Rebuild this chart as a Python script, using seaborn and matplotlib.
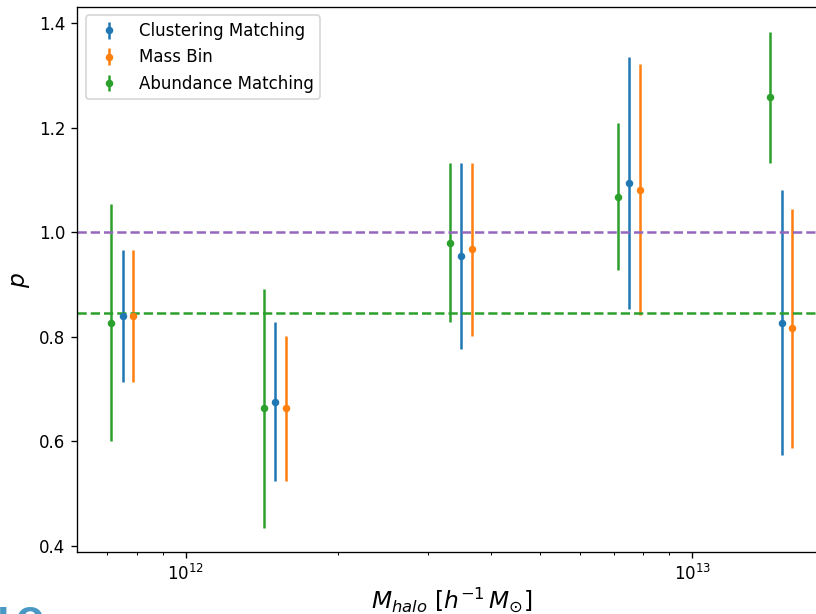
import numpy as np
import pandas as pd
import matplotlib
matplotlib.use("Agg")
import matplotlib.pyplot as plt
import seaborn as sns

# Halo mass bins (h^-1 M_sun) and the per-method offsets used to separate the bars
mass_centres = [7.5e11, 1.5e12, 3.5e12, 7.5e12, 1.5e13]
methods = ["Clustering Matching", "Mass Bin", "Abundance Matching"]
offsets = {"Clustering Matching": 1.00, "Mass Bin": 1.05, "Abundance Matching": 0.95}

# Measured p and its 1-sigma uncertainty for each method
p_clustering = [0.840, 0.676, 0.954, 1.094, 0.827]
err_clustering = [0.126, 0.152, 0.178, 0.241, 0.254]

p_massbin = [0.840, 0.663, 0.967, 1.081, 0.816]
err_massbin = [0.126, 0.139, 0.165, 0.240, 0.228]

p_abundance = [0.827, 0.663, 0.980, 1.068, 1.258]
err_abundance = [0.227, 0.228, 0.152, 0.140, 0.125]

# Reference levels
p_unity = 1.0
p_mean = 0.845

rows = []
for name, vals, errs in [
    ("Clustering Matching", p_clustering, err_clustering),
    ("Mass Bin", p_massbin, err_massbin),
    ("Abundance Matching", p_abundance, err_abundance),
]:
    for m, v, e in zip(mass_centres, vals, errs):
        rows.append({"method": name, "mass": m * offsets[name], "p": v, "err": e})
df = pd.DataFrame(rows)

sns.set_style("ticks", {"axes.grid": False})
plt.rcParams.update({
    "font.family": ["DejaVu Sans"],
    "font.size": 10,
    "text.color": "black",
    "axes.labelcolor": "black",
    "axes.edgecolor": "black",
    "xtick.color": "black",
    "ytick.color": "black",
    "xtick.direction": "out",
    "ytick.direction": "out",
    "xtick.major.size": 3.5,
    "ytick.major.size": 3.5,
    "xtick.minor.size": 2,
})

palette = dict(zip(methods, sns.color_palette("tab10", 3)))

fig = plt.figure(figsize=(6.8, 614 / 120), dpi=120)
ax = fig.add_axes([0.0947, 0.1005, 0.918, 0.888])

for name in methods:
    sub = df[df["method"] == name]
    ax.errorbar(sub["mass"], sub["p"], yerr=sub["err"], fmt=".", ms=7,
                color=palette[name], label=name, lw=1.5)

ax.axhline(p_unity, color=sns.color_palette("tab10")[4], ls="--", lw=1.5)
ax.axhline(p_mean, color=sns.color_palette("tab10")[2], ls="--", lw=1.5)

ax.set_xscale("log")
ax.set_xlabel(r"$M_{halo}\ [h^{-1}\,M_{\odot}]$", fontsize=14, labelpad=1)
ax.set_ylabel(r"$p$", fontsize=14)
ax.tick_params(labelsize=10)
ax.legend(loc="upper left", fontsize=10)
for s in ax.spines.values():
    s.set_color("black")
    s.set_linewidth(0.8)

fig.text(-0.004, 8 / 614, "LO", color="#4a98c4", fontsize=20,
         fontweight="bold", ha="left", va="top")

fig.savefig("out.png", dpi=120)
